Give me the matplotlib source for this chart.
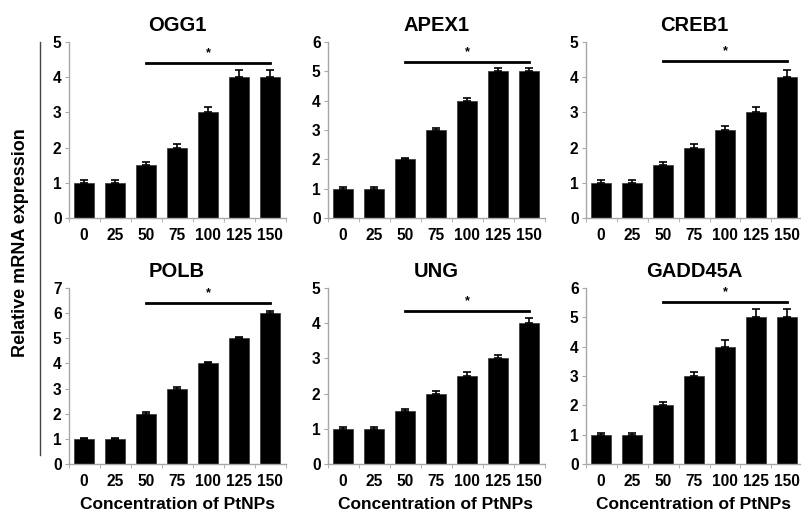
import numpy as np
import matplotlib.pyplot as plt

plt.rcParams['font.family'] = ['Liberation Sans', 'DejaVu Sans']
plt.rcParams['font.weight'] = 'bold'

conc = ['0', '25', '50', '75', '100', '125', '150']

genes = ['OGG1', 'APEX1', 'CREB1', 'POLB', 'UNG', 'GADD45A']
ogg1 = [1, 1, 1.5, 2, 3, 4, 4]
ogg1_err = [0.07, 0.07, 0.1, 0.1, 0.15, 0.2, 0.2]
apex1 = [1, 1, 2, 3, 4, 5, 5]
apex1_err = [0.05, 0.05, 0.03, 0.07, 0.08, 0.1, 0.1]
creb1 = [1, 1, 1.5, 2, 2.5, 3, 4]
creb1_err = [0.08, 0.07, 0.1, 0.1, 0.12, 0.15, 0.2]
polb = [1, 1, 2, 3, 4, 5, 6]
polb_err = [0.03, 0.03, 0.05, 0.05, 0.06, 0.06, 0.08]
ung = [1, 1, 1.5, 2, 2.5, 3, 4]
ung_err = [0.05, 0.05, 0.05, 0.07, 0.1, 0.1, 0.15]
gadd45a = [1, 1, 2, 3, 4, 5, 5]
gadd45a_err = [0.05, 0.05, 0.12, 0.15, 0.22, 0.28, 0.28]

ymax = [5, 6, 5, 7, 5, 6]
sig_y = [4.4, 5.32, 4.46, 6.4, 4.35, 5.52]

values = [ogg1, apex1, creb1, polb, ung, gadd45a]
errors = [ogg1_err, apex1_err, creb1_err, polb_err, ung_err, gadd45a_err]

fig = plt.figure(figsize=(8.01, 5.13), dpi=100)
W, H = 801, 513
lefts = [68.5, 327.5, 585.5]
bottoms = [218, 464]
aw, ah = 217, 176
grey = '#a8a8a8'

x = np.arange(len(conc))
for i, gene in enumerate(genes):
    row, col = divmod(i, 3)
    ax = fig.add_axes([lefts[col] / W, 1 - bottoms[row] / H, aw / W, ah / H])
    ax.bar(x, values[i], width=0.66, color='black', edgecolor='#333333', linewidth=0.5)
    ax.errorbar(x, values[i], yerr=[np.zeros(7), errors[i]], fmt='none',
                ecolor='black', elinewidth=1.2, capsize=3, capthick=1.2)
    ax.set_xlim(-0.5, 6.5)
    ax.set_ylim(0, ymax[i])
    ax.set_yticks(range(ymax[i] + 1))
    ax.set_xticks(x)
    ax.set_xticklabels(conc)
    ax.set_xticks(np.arange(-0.5, 7, 1), minor=True)
    ax.tick_params(axis='x', which='major', length=0, pad=7, labelsize=11.2)
    ax.tick_params(axis='x', which='minor', length=3, color=grey)
    ax.tick_params(axis='y', length=3, color=grey, labelsize=11.2, pad=2)
    for lab in ax.get_xticklabels() + ax.get_yticklabels():
        lab.set_fontweight('bold')
    for s in ['top', 'right']:
        ax.spines[s].set_visible(False)
    for s in ['left', 'bottom']:
        ax.spines[s].set_color(grey)
        ax.spines[s].set_linewidth(1)
    ax.set_title(gene, fontsize=14.5, fontweight='bold', pad=8)
    ax.plot([2, 6], [sig_y[i], sig_y[i]], color='black', linewidth=2, clip_on=False)
    ax.text(4, sig_y[i] + ymax[i] * 0.02, '*', ha='center', va='bottom', fontsize=9, fontweight='bold')
    if row == 1:
        ax.set_xlabel('Concentration of PtNPs', fontsize=12.5, fontweight='bold', labelpad=6)

fig.text(21 / W, 1 - 243 / H, 'Relative mRNA expression', rotation=90, ha='center', va='center',
         fontsize=13, fontweight='bold')
fig.add_artist(plt.Line2D([40 / W, 40 / W], [1 - 42 / H, 1 - 455 / H], color='#444444', linewidth=1))

fig.savefig('out.png', dpi=100)
